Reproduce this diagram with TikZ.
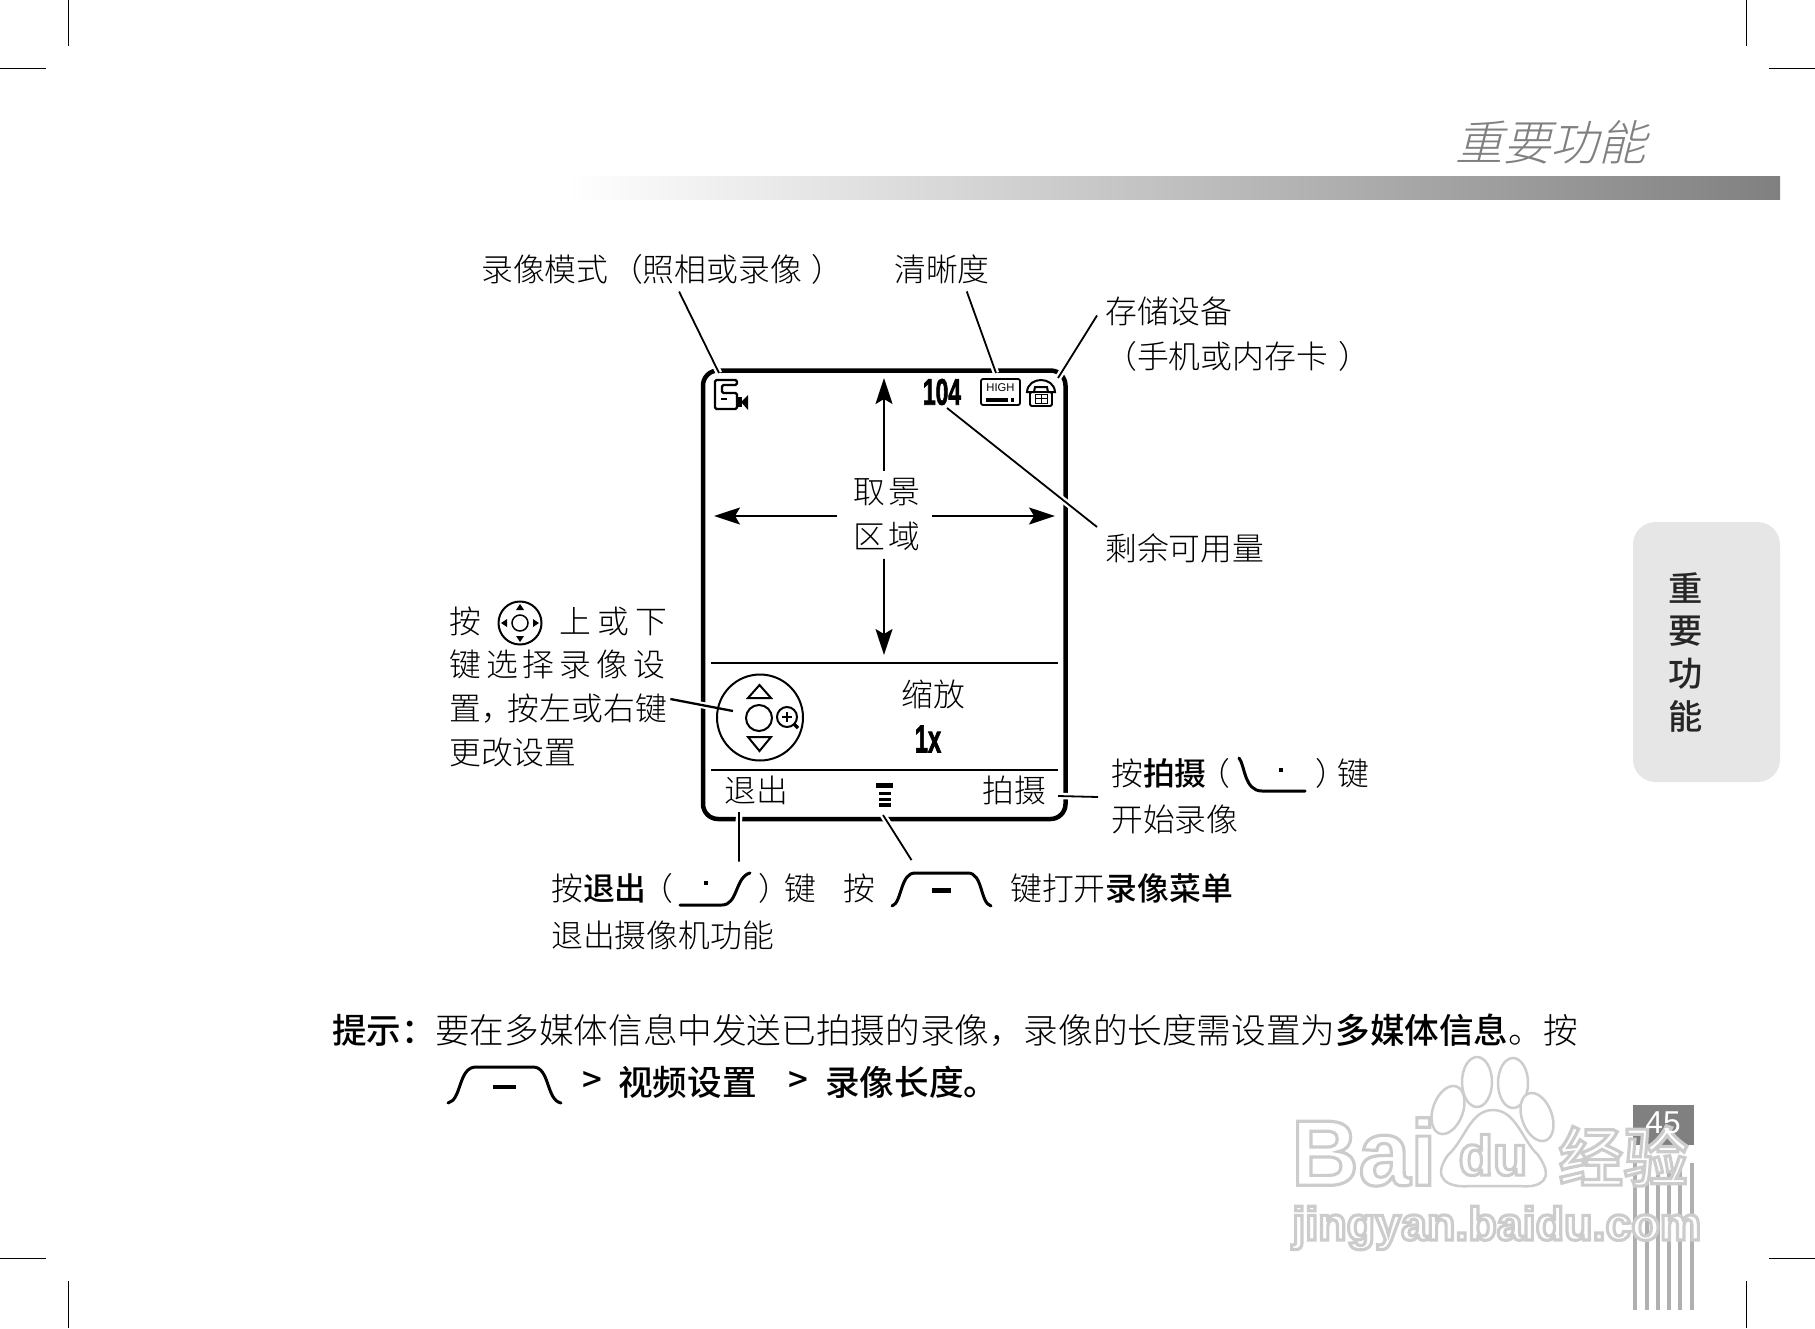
\documentclass[tikz,border=0pt]{standalone}
\usepackage{graphicx}
\usepackage{fontspec}
\setmainfont{Liberation Sans}
\newfontfamily\cjk{Noto Sans CJK SC Light}[BoldFont={Noto Sans CJK SC Medium}]
\newfontfamily\cjkslant{Noto Sans CJK SC Light}[FakeSlant=0.25]
\usepackage{tikz}
\usetikzlibrary{arrows.meta}
\usepackage{xcolor}
\definecolor{barGray}{RGB}{128, 128, 128}
\definecolor{tabGray}{RGB}{230, 230, 230}
\definecolor{stripeGray}{RGB}{176, 176, 176}
\definecolor{wmGray}{RGB}{205, 205, 205}
\newcommand{\ls}{\hspace{1mm}}
\newcommand{\cjksize}{\cjk\fontsize{18.1pt}{22pt}\selectfont}
% white letters with a pale edge
\newcommand{\wmout}[1]{\special{pdf:code q 2 Tr 1.8 w 0.8 0.8 0.8 RG 1 1 1 rg}#1\special{pdf:code Q}}
\newcommand{\heavy}[1]{\special{pdf:code q 2 Tr 0.5 w}#1\special{pdf:code Q}}

\begin{document}
\begin{tikzpicture}[x=0.2mm, y=-0.2mm, >=Stealth,
  labeltext/.style={inner sep=0, anchor=west, font=\cjksize},
  tiptext/.style={inner sep=0, anchor=west, font=\cjk\fontsize{19.7pt}{24pt}\selectfont},
  tabtext/.style={inner sep=0, font=\cjk\bfseries\fontsize{19.5pt}{24pt}\selectfont, text=black!85},
  condensed/.style={inner sep=0, font=\bfseries\fontsize{21pt}{24pt}\selectfont},
  wmtext/.style={inner sep=0, anchor=west},
  crop/.style={line width=0.2mm},
  leader/.style={line width=0.36mm, preaction={draw=white, line width=1.3mm}},
  viewarrow/.style={->, line width=0.36mm, >={Stealth[length=5.2mm, width=3.4mm, inset=1mm]}},
  softkey/.style={line width=0.6mm, line cap=round},
  thinline/.style={line width=0.4mm},
]
  \useasboundingbox (0,0) rectangle (1815,1328);

  % Crop marks
  \draw[crop] (68,0) -- (68,46);
  \draw[crop] (0,68) -- (46,68);
  \draw[crop] (1746,0) -- (1746,46);
  \draw[crop] (1769,68) -- (1815,68);
  \draw[crop] (0,1258) -- (46,1258);
  \draw[crop] (68,1281) -- (68,1328);
  \draw[crop] (1769,1258) -- (1815,1258);
  \draw[crop] (1746,1281) -- (1746,1328);

  % Page header
  \node[inner sep=0, anchor=west, font=\cjkslant\fontsize{27.2pt}{30pt}\selectfont, text=barGray] (header) at (1455,142) {重要功能};
  \shade[left color=white, right color=barGray, draw=none] (567,176) rectangle (1780,199);

  % Side tab
  \fill[tabGray, rounded corners=4.5mm] (1633,522) rectangle (1780,782);
  \node[tabtext] (tab1) at (1686,588) {重};
  \node[tabtext] (tab2) at (1686,631) {要};
  \node[tabtext] (tab3) at (1686,674) {功};
  \node[tabtext] (tab4) at (1686,716) {能};

  % Page number and stripes
  \fill[barGray] (1633,1105) rectangle (1694,1145);
  \foreach \sx in {1633,1645,1656,1667,1678,1690}
    \fill[stripeGray] (\sx,1163) rectangle (\sx+4,1310);

  % Watermark
  \node[wmtext, font=\bfseries\fontsize{53pt}{56pt}\selectfont] (wmBai) at (1291,1152) {\wmout{Bai}};
  \foreach \tx/\ty/\ta in {1448/1110/-20,1477/1082/0,1513/1083/0,1537/1117/20}
    \draw[wmGray, line width=0.5mm, fill=white, rotate around={\ta:(\tx,\ty)}] (\tx,\ty) ellipse (15 and 25);
  \draw[wmGray, line width=0.5mm, fill=white] (1493,1110) .. controls (1470,1110) and (1465,1140) .. (1448,1155)
    .. controls (1430,1180) and (1450,1188) .. (1470,1186) -- (1520,1186)
    .. controls (1540,1188) and (1556,1180) .. (1538,1155) .. controls (1522,1140) and (1516,1110) .. (1493,1110) -- cycle;
  \node[inner sep=0, font=\bfseries\fontsize{32pt}{36pt}\selectfont] (wmDu) at (1493,1155) {\wmout{du}};
  \node[wmtext, font=\cjk\bfseries\fontsize{37pt}{42pt}\selectfont] (wmJing) at (1558,1156) {\wmout{经验}};
  \node[wmtext, font=\bfseries\fontsize{26.5pt}{30pt}\selectfont] (wmUrl) at (1292,1228) {\wmout{jingyan.baidu.com}};
  \node[inner sep=0, font=\fontsize{18pt}{20pt}\selectfont, text=white] (pageNo) at (1663,1123) {45};

  % Phone screen
  \draw[line width=0.9mm, rounded corners=3mm] (703,370.5) rectangle (1065.5,819);
  \coordinate (ruleAL) at (711,663);
  \coordinate (ruleAR) at (1058,663);
  \coordinate (ruleBL) at (711,770);
  \coordinate (ruleBR) at (1058,770);
  \draw[thinline] (ruleAL) -- (ruleAR);
  \draw[thinline] (ruleBL) -- (ruleBR);

  % Labels round the screen
  \node[labeltext] (modeLabel) at (481,269) {录像模式\kern.5mm（照相或录像\kern2mm）};
  \node[labeltext] (clearLabel) at (894,269) {清晰度};
  \node[labeltext] (storeLabel) at (1105,311) {存储设备};
  \node[labeltext] (storeLabelB) at (1105,356) {（手机或内存卡\kern2mm）};
  \node[labeltext] (leftLabel) at (1105,548) {剩余可用量};

  % Left text block
  \node[labeltext] (navA) at (449,621) {按};
  \node[labeltext] (navB) at (559,621) {上\hspace{1.3mm}或\hspace{1.3mm}下};
  \node[labeltext] (navC) at (449,664) {键\ls 选\ls 择\ls 录\ls 像\ls 设};
  \node[labeltext] (navD) at (449,709) {置，\kern-1mm 按左或右键};
  \node[labeltext] (navE) at (449,752) {更改设置};

  % Bottom callouts
  \node[labeltext] (exitA) at (551,888) {按\textbf{退出}\kern-1mm（};
  \node[labeltext] (exitB) at (758,888) {）\kern-1.2mm 键};
  \node[labeltext] (exitC) at (551,935) {退出摄像机功能};
  \node[labeltext] (menuA) at (843,888) {按};
  \node[labeltext] (menuB) at (1010,888) {键打开\textbf{录像菜单}};
  \node[labeltext] (shootA) at (1111,773) {按\textbf{拍摄}\kern-1.6mm（};
  \node[labeltext] (shootB) at (1315,773) {）\kern-2mm 键};
  \node[labeltext] (shootC) at (1111,819) {开始录像};

  % Inside the screen
  \node[labeltext, anchor=center] (softL) at (756,790) {退出};
  \node[labeltext, anchor=center] (softR) at (1014,790) {拍摄};
  \node[labeltext, anchor=center] (zoomLabel) at (933,694) {缩放};
  \node[condensed] (zoomVal) at (928,739) {\scalebox{0.64}[1.05]{\heavy{1x}}};
  \node[labeltext, anchor=center] (view1) at (887,492) {取\hspace{.8mm}景};
  \node[labeltext, anchor=center] (view2) at (887,536) {区\hspace{.8mm}域};
  \coordinate (viewMid) at (884,516);
  \coordinate (upTip) at (884,378);
  \coordinate (downTip) at (884,655);
  \coordinate (leftTip) at (714,516);
  \coordinate (rightTip) at (1055,516);
  \draw[viewarrow, shorten <=1.4mm] ([xshift=-0.6mm]view1.north) -- (upTip);
  \draw[viewarrow, shorten <=1.6mm] ([xshift=-0.6mm]view2.south) -- (downTip);
  \draw[viewarrow, shorten <=9.4mm] (viewMid) -- (leftTip);
  \draw[viewarrow, shorten <=9.6mm] (viewMid) -- (rightTip);

  % Leaders
  \coordinate (modeEnd) at (719,373);
  \coordinate (clearEnd) at (996,373);
  \coordinate (storeEnd) at (1058,378);
  \coordinate (leftEnd) at (947,408);
  \coordinate (navEnd) at (733,711);
  \coordinate (exitEnd) at (739,812);
  \coordinate (menuEnd) at (883,815);
  \coordinate (shootEnd) at (1058,796);
  \draw[leader, shorten <=1.6mm] ([xshift=2.6mm]modeLabel.south) -- (modeEnd);
  \draw[leader, shorten <=1.6mm] ([xshift=4.4mm]clearLabel.south) -- (clearEnd);
  \draw[leader] ([xshift=-1.6mm,yshift=-0.9mm]storeLabel.west) -- (storeEnd);
  \draw[leader] ([xshift=-1.6mm,yshift=1.2mm]leftLabel.north west) -- (leftEnd);
  \draw[leader, line width=0.46mm] ([xshift=0.6mm,yshift=2mm]navD.east) -- (navEnd);
  \draw[leader] ([xshift=7.2mm,yshift=2.6mm]menuA.north east) -- (menuEnd);
  \draw[leader] ([xshift=13mm,yshift=2.2mm]exitA.north east) -- (exitEnd);
  \draw[leader] ([xshift=-2.6mm,yshift=-4.8mm]shootA.west) -- (shootEnd);

  % Camera mode icon
  \draw[line width=0.46mm, rounded corners=0.3mm] (715,380) -- (737,380) -- (737,385) -- (722,385) -- (722,393) -- (737,393) -- (737,409) -- (715,409) -- cycle;
  \draw[line width=0.5mm] (721,399) -- (727,399);
  \fill (737,397) rectangle (742,407);
  \fill (741,402) -- (748,395) -- (748,410) -- cycle;

  % Counter
  \node[condensed] (counter) at (942,392) {\scalebox{0.62}[1]{\heavy{104}}};

  % High quality icon
  \draw[line width=0.36mm, rounded corners=0.4mm] (981,379) rectangle (1020,405);
  \node[inner sep=0, font=\fontsize{6.4pt}{7pt}\selectfont] (highText) at (1000.5,388) {HIGH};
  \fill (986,398) rectangle (1008,401.5);
  \fill (1011,398) rectangle (1014,401.5);

  % Storage icon
  \draw[line width=0.4mm, fill=white] (1027,392) .. controls (1028,376) and (1054,376) .. (1055,392) -- (1048,392) -- (1047,387) -- (1035,387) -- (1034,392) -- cycle;
  \draw[line width=0.36mm, rounded corners=0.3mm] (1030,392) rectangle (1052,406);
  \draw[line width=0.2mm] (1035,394) rectangle (1047,403) (1041,394) -- (1041,403) (1035,398.5) -- (1047,398.5);

  % Zoom dial
  \draw[thinline] (760,717.5) circle (43);
  \draw[thinline] (759,718) circle (13);
  \draw[thinline] (748,698) -- (771,698) -- (759.5,685) -- cycle;
  \draw[thinline] (748,737) -- (771,737) -- (759.5,751) -- cycle;
  \draw[thinline] (787,717) circle (10);
  \draw[thinline] (782,717) -- (792,717) (787,712) -- (787,722);
  \draw[line width=0.7mm] (794,724) -- (798,728);

  % Menu glyph on the screen
  \fill (876,783) rectangle (893,788);
  \fill (879,792) rectangle (891,795);
  \fill (879,798) rectangle (891,801);
  \fill (879,803) rectangle (891,807);

  % Nav key in the text
  \draw[line width=0.4mm] (520,623) circle (21.5);
  \draw[line width=0.3mm] (520,623) circle (8);
  \fill (520,604) -- (524,610) -- (516,610) -- cycle;
  \fill (520,642) -- (524,636) -- (516,636) -- cycle;
  \fill (501,623) -- (507,619) -- (507,627) -- cycle;
  \fill (539,623) -- (533,619) -- (533,627) -- cycle;

  % Soft keys
  \draw[softkey] (680,905) -- (722,905) .. controls (738,905) and (735,877) .. (750,873);
  \fill (704,881) rectangle (708,885);
  \draw[softkey] (892,906) .. controls (902,903) and (900,873) .. (915,873) -- (968,873) .. controls (983,873) and (980,903) .. (991,906);
  \fill (932,888) rectangle (951,893);
  \draw[softkey] (1239,758) .. controls (1245,765) and (1244,791) .. (1262,791) -- (1305,791);
  \fill (1279,768) rectangle (1283,772);

  % Tip
  \node[tiptext] (tipHead) at (332,1030) {\textbf{提示：}};
  \node[tiptext] (tipBody) at (435,1030) {要在多媒体信息中发送已拍摄的录像，录像的长度需设置为\textbf{多媒体信息}。按};
  \draw[softkey] (448,1103) .. controls (462,1100) and (458,1067) .. (476,1067) -- (533,1067) .. controls (550,1067) and (546,1100) .. (561,1103);
  \fill (493,1085) rectangle (516,1089);
  \node[tiptext] (tipGtA) at (582,1082) {\textbf{>}};
  \node[tiptext] (tipSetA) at (618,1082) {\textbf{视频设置}};
  \node[tiptext] (tipGtB) at (788,1082) {\textbf{>}};
  \node[tiptext] (tipSetB) at (825,1082) {\textbf{录像长度。}};
\end{tikzpicture}
\end{document}
